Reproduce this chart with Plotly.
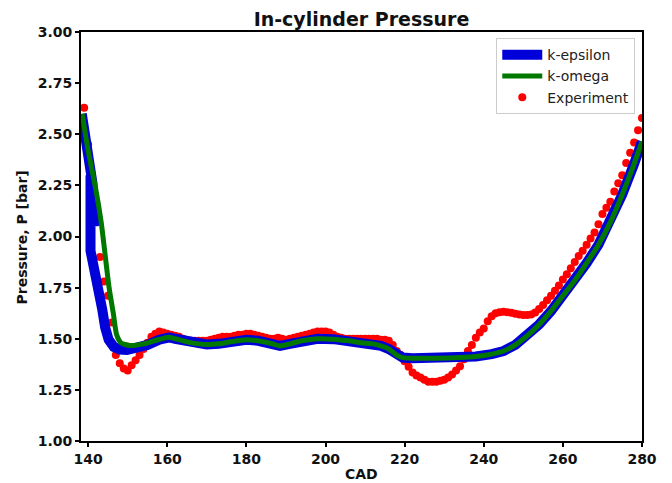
import plotly.graph_objects as go

# ---------------- data ----------------
exp_cad = list(range(139, 281))
exp_p = [
    2.63, 2.45, 2.27, 2.08, 1.90, 1.78, 1.71, 1.58, 1.42, 1.38,      # 139-148
    1.355, 1.345, 1.37, 1.395, 1.42, 1.45, 1.48, 1.51, 1.525, 1.535,  # 149-158
    1.53, 1.525, 1.52, 1.515, 1.51, 1.50, 1.49, 1.49, 1.49, 1.49,     # 159-168
    1.49, 1.49, 1.495, 1.50, 1.505, 1.51, 1.51, 1.51, 1.515, 1.52,    # 169-178
    1.52, 1.525, 1.525, 1.52, 1.515, 1.51, 1.505, 1.50, 1.50, 1.505,  # 179-188
    1.50, 1.495, 1.50, 1.505, 1.51, 1.515, 1.52, 1.525, 1.53, 1.535,  # 189-198
    1.535, 1.535, 1.53, 1.52, 1.51, 1.505, 1.50, 1.50, 1.50, 1.50,    # 199-208
    1.50, 1.50, 1.50, 1.50, 1.50, 1.495, 1.495, 1.49, 1.47, 1.44,     # 209-218
    1.42, 1.39, 1.363, 1.335, 1.32, 1.31, 1.30, 1.29, 1.29, 1.29,     # 219-228
    1.295, 1.30, 1.31, 1.325, 1.345, 1.365, 1.40, 1.44, 1.47, 1.505,  # 229-238
    1.53, 1.55, 1.585, 1.61, 1.625, 1.63, 1.632, 1.63, 1.627, 1.622,  # 239-248
    1.618, 1.616, 1.616, 1.618, 1.628, 1.645, 1.665, 1.688, 1.71, 1.735,  # 249-258
    1.76, 1.79, 1.815, 1.845, 1.875, 1.905, 1.93, 1.96, 1.99, 2.02,   # 259-268
    2.06, 2.11, 2.14, 2.17, 2.22, 2.26, 2.30, 2.36, 2.41, 2.46,       # 269-278
    2.52, 2.58,                                                       # 279-280
]

# shared part of both simulations (after ~160 CAD)
common_cad = [160.5, 162, 165, 168, 170, 173, 176, 180, 183, 186, 188.5, 191, 194,
              198, 202, 206, 209, 212, 214, 216, 218, 219.5, 222, 228, 234, 238,
              242, 245, 248, 251, 254, 257, 260, 263, 266, 269, 272, 275, 278, 280]
common_p = [1.507, 1.50, 1.485, 1.475, 1.472, 1.475, 1.485, 1.495, 1.49, 1.478, 1.465,
            1.475, 1.49, 1.50, 1.498, 1.49, 1.48, 1.475, 1.465, 1.45, 1.42, 1.408,
            1.405, 1.405, 1.408, 1.413, 1.425, 1.44, 1.47, 1.515, 1.57, 1.635, 1.71,
            1.785, 1.87, 1.96, 2.07, 2.205, 2.355, 2.465]

keps_cad_start = [138.4, 141.1, 141.7, 140.6, 140.6, 141.7, 142.8, 143.6, 144.3,
                  145.2, 146.5, 148, 149.8, 152, 155, 158]
keps_p_start = [2.60, 2.26, 2.05, 2.30, 1.93, 1.84, 1.74, 1.64, 1.555,
                1.495, 1.46, 1.447, 1.445, 1.452, 1.47, 1.495]

komg_cad_start = [138.5, 140, 142, 143.3, 145.3, 146.4, 147.2, 148.3, 150.5, 154, 157.4]
komg_p_start = [2.60, 2.42, 2.225, 2.07, 1.75, 1.62, 1.52, 1.48, 1.467, 1.475, 1.494]

keps_cad = keps_cad_start + common_cad
keps_p = keps_p_start + common_p
komg_cad = komg_cad_start + common_cad
komg_p = komg_p_start + common_p

x_ticks = [140, 160, 180, 200, 220, 240, 260, 280]
y_ticks = [1.00, 1.25, 1.50, 1.75, 2.00, 2.25, 2.50, 2.75, 3.00]

# ---------------- figure ----------------
FONT = "DejaVu Sans"
W, H = 672, 483
ML, MR, MT, MB = 81, 30, 32, 42
PW, PH = W - ML - MR, H - MT - MB

fig = go.Figure()

fig.add_trace(go.Scatter(
    x=exp_cad, y=exp_p, mode="markers", name="Experiment",
    marker=dict(color="#ff0000", size=8, line=dict(width=0)),
    legendrank=3,
))
fig.add_trace(go.Scatter(
    x=keps_cad, y=keps_p, mode="lines", name="k-epsilon",
    line=dict(color="#0000d8", width=10),
    legendrank=1,
))
fig.add_trace(go.Scatter(
    x=komg_cad, y=komg_p, mode="lines", name="k-omega",
    line=dict(color="#007800", width=5, shape="spline", smoothing=0.6),
    legendrank=2,
))

axis_common = dict(
    showline=True, linecolor="black", linewidth=2, mirror=True,
    showgrid=False, zeroline=False, automargin=False,
    ticks="outside", ticklen=4, tickwidth=1.5, tickcolor="black",
    tickfont=dict(family=FONT, size=14, color="#111111"),
)

fig.update_xaxes(
    range=[138.2, 280], tickvals=x_ticks, ticktext=[f"<b>{v}</b>" for v in x_ticks],
    **axis_common,
)
fig.update_yaxes(
    range=[1.0, 3.0], tickvals=y_ticks, ticktext=[f"<b>{v:.2f}</b>" for v in y_ticks],
    **axis_common,
)

fig.add_annotation(
    text="<b>CAD</b>", xref="paper", yref="paper",
    x=0.5, y=-(474 - (H - MB)) / PH, xanchor="center", yanchor="middle",
    showarrow=False, font=dict(family=FONT, size=14, color="#111111"),
)
fig.add_annotation(
    text="<b>Pressure, P [bar]</b>", xref="paper", yref="paper",
    x=(21.5 - ML) / PW, y=((H - MB) - 238) / PH, xanchor="center", yanchor="middle",
    textangle=-90, showarrow=False, font=dict(family=FONT, size=14, color="#111111"),
)

fig.update_layout(
    width=W, height=H,
    margin=dict(l=ML, r=MR, t=MT, b=MB),
    paper_bgcolor="white", plot_bgcolor="white",
    title=dict(text="<b>In-cylinder Pressure</b>", x=(361.5) / W, xanchor="center",
               y=1 - 19 / H, yanchor="middle",
               font=dict(family=FONT, size=19, color="#111111")),
    showlegend=True,
    legend=dict(
        x=0.988, y=0.985, xanchor="right", yanchor="top",
        bgcolor="rgba(255,255,255,0.85)", bordercolor="#cccccc", borderwidth=1,
        font=dict(family=FONT, size=14, color="#222222"),
        itemwidth=40, tracegroupgap=0,
    ),
)

fig.write_html("out.html")
